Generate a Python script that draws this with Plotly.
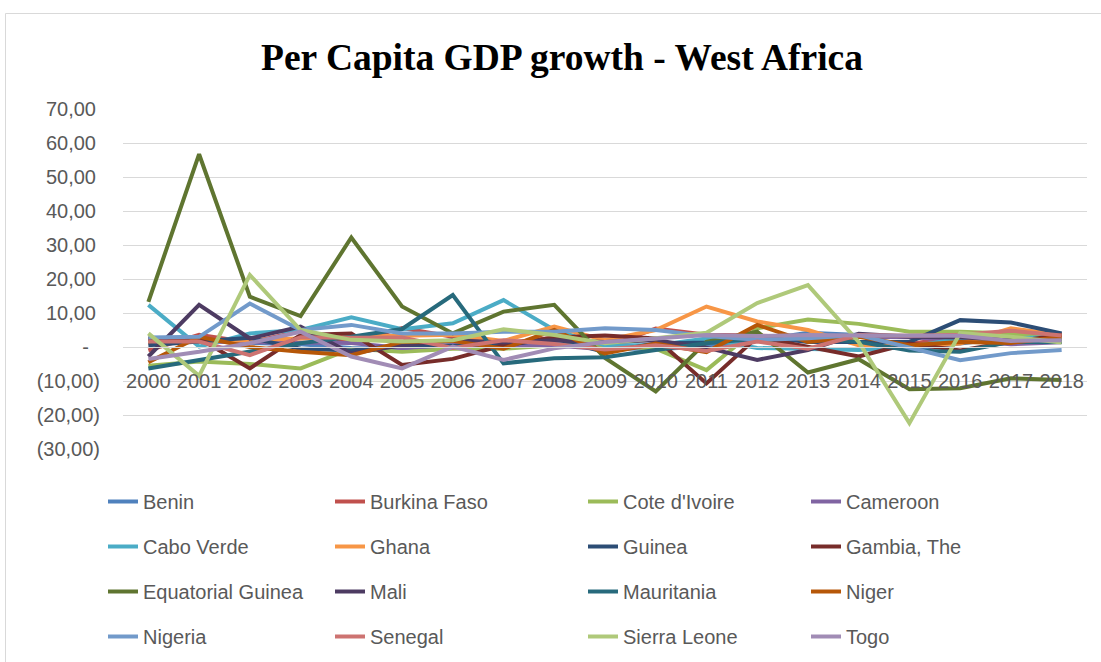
import plotly.graph_objects as go

years = [str(y) for y in range(2000, 2019)]

benin = [2.3, 2.0, 1.2, 0.8, -0.3, -0.5, 0.6, 1.3, 1.8, -0.4, -0.6, 0.1, 1.9, 4.2, 3.5, -0.7, 1.0, 2.8, 3.6]
burkina_faso = [-1.0, 3.6, 1.3, 4.7, 1.5, 5.6, 3.0, 1.0, 2.8, 0.0, 5.4, 3.6, 3.4, 2.8, 1.1, 0.9, 3.0, 3.2, 3.8]
cote_divoire = [-5.5, -4.3, -5.0, -6.3, -0.5, -1.4, -0.5, -0.5, 0.5, 0.5, -0.5, -6.8, 5.5, 8.1, 6.8, 4.5, 4.5, 4.0, 2.0]
cameroon = [1.5, 1.6, 1.4, 1.4, 1.2, -0.3, 0.6, 0.6, 0.5, -0.7, 0.7, 1.4, 1.8, 2.2, 3.0, 2.9, 1.9, 0.8, 1.4]
cabo_verde = [12.4, 0.1, 4.0, 5.0, 8.7, 5.2, 7.0, 13.8, 5.0, 0.5, 0.5, 2.5, -0.3, -0.5, -0.9, 0.0, 2.5, 2.5, 3.0]
ghana = [1.2, 1.8, 2.0, 2.6, 3.0, 3.3, 3.6, 1.8, 6.0, 2.0, 5.0, 11.9, 7.5, 5.0, 0.5, 0.0, 1.0, 5.5, 3.5]
guinea = [0.5, 1.5, 2.7, -0.5, -1.0, 0.5, 0.3, 0.5, 2.5, -1.5, 1.0, 1.3, 3.2, 1.5, 1.5, 1.5, 7.9, 7.2, 4.0]
gambia = [2.5, 2.5, -6.3, 3.5, 4.0, -5.3, -3.5, 0.5, 2.8, 3.4, 2.5, -10.7, 2.9, 0.0, -2.8, 1.0, -1.0, 1.5, 3.5]
equatorial_guinea = [13.3, 56.7, 14.8, 9.1, 32.2, 11.9, 4.0, 10.4, 12.4, -3.2, -13.1, 1.5, 4.5, -7.5, -3.6, -12.4, -12.1, -9.2, -9.7]
mali = [-2.8, 12.4, 2.5, 6.0, -1.9, 0.5, 2.0, 1.3, 2.0, 1.5, 2.0, -0.2, -3.8, -0.9, 3.9, 3.0, 2.8, 2.2, 1.6]
mauritania = [-6.3, -3.8, -1.4, 1.1, 3.0, 5.3, 15.3, -4.8, -3.3, -3.0, -0.9, 1.1, 2.5, 2.8, 1.5, -1.0, -1.4, 1.5, 1.5]
niger = [-4.5, 3.0, 0.0, -1.4, -2.4, 1.5, 1.8, -0.5, 5.0, -1.9, 1.0, -1.5, 6.5, 1.5, 3.0, 0.5, 1.5, 1.2, 3.0]
nigeria = [2.8, 3.0, 12.8, 5.0, 6.5, 4.0, 4.0, 4.5, 4.5, 5.5, 5.0, 3.2, 2.1, 2.6, 3.5, -0.3, -3.9, -1.8, -0.9]
senegal = [1.6, 1.6, -2.4, 2.9, 2.7, 2.8, -0.3, 2.0, 0.9, -0.7, 0.5, -1.2, 1.6, -0.5, 3.5, 3.3, 3.6, 4.8, 3.4]
sierra_leone = [4.0, -8.5, 21.2, 5.0, 2.1, 1.6, 2.0, 5.2, 3.5, 1.1, 2.6, 4.2, 12.9, 18.2, 1.5, -22.4, 4.1, 3.0, 1.3]
togo = [-3.5, -1.4, 1.1, 4.5, -2.8, -6.3, 0.1, -3.8, -0.4, 1.5, 2.5, 3.5, 3.2, 3.5, 3.4, 3.3, 3.3, 1.8, 2.0]

countries = [
    ("Benin", benin, "#4F81BD"),
    ("Burkina Faso", burkina_faso, "#C0504D"),
    ("Cote d'Ivoire", cote_divoire, "#9BBB59"),
    ("Cameroon", cameroon, "#8064A2"),
    ("Cabo Verde", cabo_verde, "#4BACC6"),
    ("Ghana", ghana, "#F79646"),
    ("Guinea", guinea, "#2C4D75"),
    ("Gambia, The", gambia, "#772C2A"),
    ("Equatorial Guinea", equatorial_guinea, "#5F7530"),
    ("Mali", mali, "#4D3B62"),
    ("Mauritania", mauritania, "#276A7C"),
    ("Niger", niger, "#B65708"),
    ("Nigeria", nigeria, "#729ACA"),
    ("Senegal", senegal, "#CD7371"),
    ("Sierra Leone", sierra_leone, "#AFC97A"),
    ("Togo", togo, "#A18CB5"),
]

y_ticks = [-30, -20, -10, 0, 10, 20, 30, 40, 50, 60, 70]
y_tick_text = ["(30,00)", "(20,00)", "(10,00)", "-\u00a0\u00a0",
               "10,00\u2009", "20,00\u2009", "30,00\u2009", "40,00\u2009",
               "50,00\u2009", "60,00\u2009", "70,00\u2009"]

W, H = 1101, 662
L, R, T, B = 123, 14, 109, 213
pw, ph = W - L - R, H - T - B

def px_x(p):
    return (p - L) / pw

def px_y(p):
    return (H - B - p) / ph

fig = go.Figure()
legend_names = ["legend", "legend2", "legend3", "legend4"]
for i, (name, vals, color) in enumerate(countries):
    fig.add_trace(go.Scatter(
        x=years, y=vals, name=name, mode="lines",
        line=dict(color=color, width=4),
        legend=legend_names[i % 4], legendgroup=name,
    ))

tick_font = dict(family="Liberation Sans", size=20, color="#595959")
legend_common = dict(
    orientation="v", xanchor="left", yanchor="top", y=px_y(482),
    font=tick_font, bgcolor="rgba(0,0,0,0)", tracegroupgap=16,
    itemclick=False,
)
text_starts = [145, 372, 625, 848]

layout_legends = {}
for k, ln in enumerate(legend_names):
    layout_legends[ln] = dict(legend_common, x=px_x(text_starts[k] - 42))

fig.update_layout(
    width=W, height=H,
    margin=dict(l=L, r=R, t=T, b=B, autoexpand=False),
    paper_bgcolor="white", plot_bgcolor="white",
    title=dict(
        text="<b>Per Capita GDP growth - West Africa</b>",
        font=dict(family="Liberation Serif", size=37.5, color="black"),
        x=px_x(562), xref="paper", xanchor="center",
        y=1 - 57 / H, yref="container", yanchor="middle",
    ),
    showlegend=True,
    **layout_legends,
    xaxis=dict(
        type="category", categoryorder="array", categoryarray=years,
        range=[-0.5, len(years) - 0.5],
        anchor="free", position=0.3,
        showgrid=False, showline=True, linecolor="#D9D9D9", linewidth=1,
        ticks="", tickfont=tick_font, ticklabelstandoff=16,
        zeroline=False,
    ),
    yaxis=dict(
        range=[-30, 70], tickvals=y_ticks, ticktext=y_tick_text,
        showgrid=True, gridcolor="#D9D9D9", gridwidth=1,
        zeroline=False, showline=False, ticks="",
        tickfont=tick_font, ticklabelstandoff=22,
    ),
    shapes=[dict(
        type="rect", xref="paper", yref="paper",
        x0=px_x(5.5), x1=px_x(1110), y0=px_y(670), y1=px_y(13.5),
        line=dict(color="#D9D9D9", width=1), fillcolor="rgba(0,0,0,0)",
        layer="below",
    )],
)

fig.write_html("out.html")
